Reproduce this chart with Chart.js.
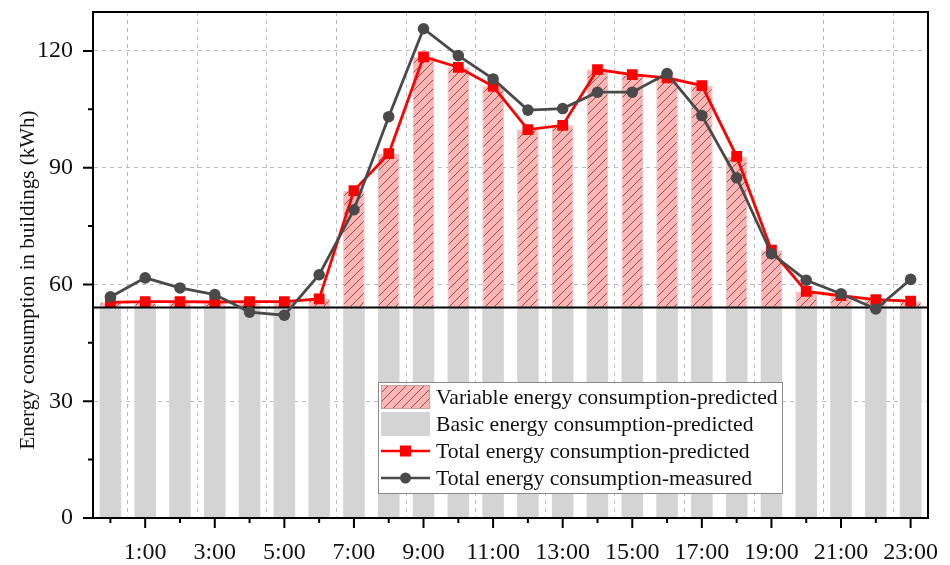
<!DOCTYPE html>
<html>
<head>
<meta charset="utf-8">
<script src="https://cdn.jsdelivr.net/npm/chart.js@4/dist/chart.umd.min.js"></script>
<style>
html,body{margin:0;padding:0;background:#fff;}
#wrap{width:950px;height:565px;}
</style>
</head>
<body>
<div id="wrap"><canvas id="energyChart" width="950" height="565"></canvas></div>
<script>
const hours = ["0:00","1:00","2:00","3:00","4:00","5:00","6:00","7:00","8:00","9:00","10:00","11:00",
  "12:00","13:00","14:00","15:00","16:00","17:00","18:00","19:00","20:00","21:00","22:00","23:00"];

const basic = [54.1,54.1,54.1,54.1,54.1,54.1,54.1,54.1,54.1,54.1,54.1,54.1,
  54.1,54.1,54.1,54.1,54.1,54.1,54.1,54.1,54.1,54.1,54.1,54.1];

const predicted = [55.4,55.6,55.6,55.5,55.6,55.6,56.3,84.1,93.6,118.5,115.8,110.9,
  99.8,100.9,115.2,113.9,113.1,111.1,92.9,68.8,58.2,57.1,56.1,55.7];

const measured = [56.8,61.7,59.1,57.4,52.9,52.1,62.5,79.2,103.1,125.7,118.8,112.8,
  104.8,105.2,109.4,109.4,114.2,103.4,87.4,67.9,61.1,57.6,53.7,61.3];

const yTicks = [0,15,30,45,60,75,90,105,120];

const yTitle = "Energy consumption in buildings (kWh)";

const legendLabels = [
  "Variable energy consumption-predicted",
  "Basic energy consumption-predicted",
  "Total energy consumption-predicted",
  "Total energy consumption-measured"
];

const SERIF = "'Liberation Serif', 'Times New Roman', serif";
const PINK = "#ffb4b4";
const GREY_BAR = "#d4d4d4";
const RED = "#ff0000";
const DARK = "#4a4a4a";

// diagonal hatch on pink
function hatchPattern(){
  const c = document.createElement("canvas");
  c.width = 9; c.height = 9;
  const g = c.getContext("2d");
  g.fillStyle = PINK;
  g.fillRect(0,0,9,9);
  g.strokeStyle = "rgba(70,50,50,0.8)";
  g.lineWidth = 0.9;
  g.beginPath();
  g.moveTo(0,9); g.lineTo(9,0);
  g.moveTo(-1,1); g.lineTo(1,-1);
  g.moveTo(8,10); g.lineTo(10,8);
  g.stroke();
  return g.createPattern(c,"repeat");
}
const hatch = hatchPattern();

// frame, tick marks, base line, axis title and legend box
const decorations = {
  id: "decorations",
  afterDatasetDraw(chart, args){
    if (args.index !== 1) return;
    const {ctx, chartArea} = chart;
    const y = chart.scales.y.getPixelForValue(basic[0]);
    ctx.save();
    ctx.strokeStyle = "#000";
    ctx.lineWidth = 2;
    ctx.beginPath();
    ctx.moveTo(chartArea.left, y);
    ctx.lineTo(chartArea.right, y);
    ctx.stroke();
    ctx.restore();
  },
  afterDraw(chart){
    const {ctx, chartArea} = chart;
    const xs = chart.scales.x, ys = chart.scales.y;
    ctx.save();
    ctx.strokeStyle = "#000";
    ctx.lineWidth = 2;
    ctx.strokeRect(chartArea.left, chartArea.top, chartArea.right - chartArea.left, chartArea.bottom - chartArea.top);
    ctx.beginPath();
    hours.forEach((h, i) => {
      const x = xs.getPixelForValue(i);
      ctx.moveTo(x, chartArea.bottom);
      ctx.lineTo(x, chartArea.bottom + (i % 2 ? 10 : 5));
    });
    yTicks.forEach(v => {
      const y = ys.getPixelForValue(v);
      ctx.moveTo(chartArea.left, y);
      ctx.lineTo(chartArea.left - (v % 30 === 0 ? 10 : 5), y);
    });
    ctx.stroke();

    // y axis title, sits a little below the middle of the axis
    ctx.save();
    ctx.translate(28, 280);
    ctx.rotate(-Math.PI / 2);
    ctx.fillStyle = "#111";
    ctx.font = "21px " + SERIF;
    ctx.textAlign = "center";
    ctx.textBaseline = "middle";
    ctx.fillText(yTitle, 0, 0);
    ctx.restore();

    // legend
    const lx = 378, ly = 382, lw = 404, lh = 111;
    ctx.fillStyle = "#fff";
    ctx.fillRect(lx, ly, lw, lh);
    ctx.strokeStyle = "#8a8a8a";
    ctx.lineWidth = 1;
    ctx.strokeRect(lx + 0.5, ly + 0.5, lw, lh);

    const rows = [397, 424, 451, 478];
    ctx.fillStyle = hatch;
    ctx.fillRect(381, 385, 49, 24);
    ctx.strokeStyle = "#c9a0a0";
    ctx.strokeRect(381.5, 385.5, 48, 23);
    ctx.fillStyle = GREY_BAR;
    ctx.fillRect(381, 412, 49, 24);

    ctx.lineWidth = 2.5;
    ctx.strokeStyle = RED;
    ctx.beginPath(); ctx.moveTo(381, rows[2]); ctx.lineTo(430, rows[2]); ctx.stroke();
    ctx.fillStyle = RED;
    ctx.fillRect(400, rows[2] - 5.5, 11, 11);
    ctx.strokeStyle = DARK;
    ctx.beginPath(); ctx.moveTo(381, rows[3]); ctx.lineTo(430, rows[3]); ctx.stroke();
    ctx.fillStyle = DARK;
    ctx.beginPath(); ctx.arc(405.5, rows[3], 5.5, 0, Math.PI * 2); ctx.fill();

    ctx.fillStyle = "#111";
    ctx.font = "21.7px " + SERIF;
    ctx.textBaseline = "middle";
    ctx.textAlign = "left";
    legendLabels.forEach((t, i) => ctx.fillText(t, 436, rows[i] + 1));
    ctx.restore();
  }
};

new Chart(document.getElementById("energyChart"), {
  type: "bar",
  data: {
    labels: hours,
    datasets: [
      {
        type: "line",
        label: legendLabels[3],
        data: measured,
        borderColor: DARK,
        backgroundColor: DARK,
        borderWidth: 2.8,
        pointStyle: "circle",
        pointRadius: 5.8,
        pointBorderWidth: 0,
        order: 0
      },
      {
        type: "line",
        label: legendLabels[2],
        data: predicted,
        borderColor: RED,
        backgroundColor: RED,
        borderWidth: 2.8,
        pointStyle: "rect",
        pointRadius: 7.6,
        pointBorderWidth: 0,
        order: 1
      },
      {
        label: legendLabels[0],
        data: predicted.map((v, i) => [basic[i], v]),
        backgroundColor: hatch,
        borderColor: "rgba(200,150,150,0.6)",
        borderWidth: 1,
        borderSkipped: false,
        barPercentage: 0.62,
        categoryPercentage: 1,
        grouped: false,
        order: 2
      },
      {
        label: legendLabels[1],
        data: basic,
        backgroundColor: GREY_BAR,
        borderWidth: 0,
        barPercentage: 0.62,
        categoryPercentage: 1,
        grouped: false,
        order: 3
      }
    ]
  },
  options: {
    responsive: false,
    animation: false,
    layout: { padding: { left: 0, right: 22, top: 12, bottom: 0 } },
    plugins: {
      legend: { display: false },
      tooltip: { enabled: false }
    },
    scales: {
      x: {
        afterFit(s){ s.height = 47; s.paddingLeft = 0; s.paddingRight = 0; },
        grid: {
          drawTicks: false,
          color: ctx => (ctx.index % 2 ? "#bdbdbd" : "rgba(0,0,0,0)"),
          lineWidth: 1
        },
        border: { display: true, color: "#000", width: 2, dash: [4, 4] },
        ticks: {
          autoSkip: false,
          maxRotation: 0,
          padding: 20,
          color: "#111",
          font: { family: SERIF, size: 24 },
          callback: (v, i) => (i % 2 ? hours[i] : "")
        }
      },
      y: {
        min: 0,
        max: 130,
        afterFit(s){ s.width = 93; s.paddingTop = 0; s.paddingBottom = 0; },
        grid: {
          drawTicks: false,
          color: ctx => (ctx.tick && ctx.tick.value % 30 === 0 && ctx.tick.value > 0 ? "#bdbdbd" : "rgba(0,0,0,0)"),
          lineWidth: 1
        },
        border: { display: true, color: "#000", width: 2, dash: [4, 4] },
        ticks: {
          stepSize: 15,
          padding: 20,
          color: "#111",
          font: { family: SERIF, size: 24 },
          callback: v => (v % 30 === 0 ? v : "")
        }
      }
    }
  },
  plugins: [decorations]
});
</script>
</body>
</html>
